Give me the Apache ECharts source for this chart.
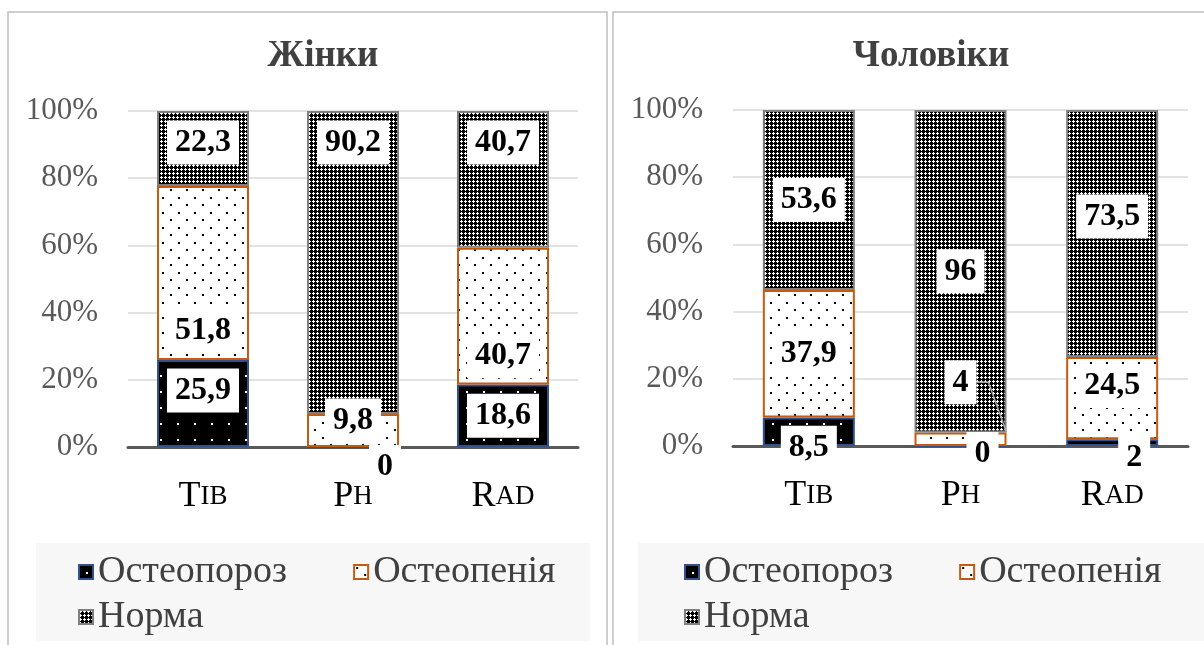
<!DOCTYPE html>
<html><head><meta charset="utf-8">
<script src="https://cdn.jsdelivr.net/npm/echarts@6/dist/echarts.min.js"></script>
<style>html,body{margin:0;padding:0;background:#fff}#c{width:1204px;height:645px}</style>
</head><body><div id="c"></div>
<script>
// ---- data ----
const categories = ['Tib', 'Ph', 'Rad'];
const seriesNames = ['Остеопороз', 'Остеопенія', 'Норма'];
const chartTitles = ['Жінки', 'Чоловіки'];
const womenOsteoporosis = [25.9, 0, 18.6];
const womenOsteopenia = [51.8, 9.8, 40.7];
const womenNorma = [22.3, 90.2, 40.7];
const menOsteoporosis = [8.5, 0, 2];
const menOsteopenia = [37.9, 4, 24.5];
const menNorma = [53.6, 96, 73.5];

// ---- label shifts (style only) ----
const shiftWomen = [[[0,-13],[32,20],[0,0]], [[0,58],[0,-10],[0,40]], [[0,-6],[0,-120],[0,-37]]];
const shiftMen = [[[0,16],[22,8],[22,15]], [[0,0],[0,-57],[0,-12]], [[0,0],[0,0],[0,-17]]];

const FONT = "Liberation Serif";
const BAR_W = 92;
const LABEL_FONT = "bold 32px 'Liberation Serif'";
const LABEL_PAD_X = 8;

function makePattern(w, h, bg, fg, pts) {
  const c = document.createElement('canvas');
  c.width = w; c.height = h;
  const g = c.getContext('2d');
  g.fillStyle = bg; g.fillRect(0, 0, w, h);
  g.fillStyle = fg;
  pts.forEach(p => g.fillRect(p[0], p[1], p[2] || 2, p[3] || 2));
  return { image: c, repeat: 'repeat' };
}
const patOsteoporosis = makePattern(17, 16, '#000', '#fff', [[7, 7]]);
const patOsteopenia = makePattern(16, 15, '#fff', '#000', [[2, 2], [10, 9]]);
const patNorma = makePattern(4, 4, '#000', '#fff', [[1,0,1,1],[0,1,3,1],[1,2,1,1]]);

const styles = [
  { color: patOsteoporosis, borderColor: '#2f528f', borderWidth: 2 },
  { color: patOsteopenia, borderColor: '#c55a11', borderWidth: 2 },
  { color: patNorma, borderColor: '#808080', borderWidth: 2 }
];

function fmtVal(v) { return String(v).replace('.', ','); }
function fmt(p) { return fmtVal(p.value); }

const measureCtx = document.createElement('canvas').getContext('2d');
function labelHalfWidth(text) {
  measureCtx.font = LABEL_FONT;
  return measureCtx.measureText(text).width / 2 + LABEL_PAD_X;
}

function buildSeries(idx, values, shifts) {
  const out = [];
  values.forEach((vals, s) => {
    out.push({
      name: seriesNames[s], type: 'bar', stack: 'st' + idx,
      xAxisIndex: idx, yAxisIndex: idx, barWidth: BAR_W,
      itemStyle: styles[s],
      data: vals.slice(),
      label: {
        show: true, position: 'inside', formatter: fmt,
        fontFamily: FONT, fontWeight: 'bold', fontSize: 32, color: '#000',
        backgroundColor: '#fff', padding: [5, LABEL_PAD_X], lineHeight: 34
      },
      labelLayout: function (p) { const sh = shifts[s][p.dataIndex]; return { dx: sh[0], dy: sh[1] }; },
      emphasis: { disabled: true }
    });
  });
  return out;
}

// leader line for the moved label "4" (men, Ph, osteopenia) — drawn via the chart's own scales
const leaderSeries = {
  type: 'custom', xAxisIndex: 1, yAxisIndex: 1, z: 3, silent: true,
  data: [[1, menOsteoporosis[1], menOsteopenia[1]]],
  renderItem: function (params, api) {
    const ci = api.value(0), base = api.value(1), val = api.value(2);
    const top = api.coord([ci, base + val]);
    const mid = api.coord([ci, base + val / 2]);
    const sh = shiftMen[1][ci];
    const hw = labelHalfWidth(fmtVal(val));
    const sx = mid[0] + sh[0] + hw, sy = mid[1] + sh[1];
    return {
      type: 'polyline',
      shape: { points: [[sx, sy], [sx + 12, sy], [mid[0] + BAR_W / 2, top[1]]] },
      style: { stroke: '#a6a6a6', lineWidth: 1.5, fill: null }
    };
  }
};

const xLabel = {
  interval: 0, margin: 32,
  formatter: v => '{a|' + v[0] + '}{b|' + v.slice(1).toUpperCase() + '}',
  rich: {
    a: { fontFamily: FONT, fontSize: 36, color: '#000' },
    b: { fontFamily: FONT, fontSize: 27, color: '#000' }
  }
};
function xAxis(gi) {
  return {
    type: 'category', gridIndex: gi, data: categories,
    axisTick: { show: false },
    axisLine: { lineStyle: { color: '#595959', width: 3 } },
    axisLabel: xLabel
  };
}
function yAxis(gi) {
  return {
    type: 'value', gridIndex: gi, min: 0, max: 100, interval: 20,
    axisLine: { show: false }, axisTick: { show: false },
    splitLine: { lineStyle: { color: '#d9d9d9', width: 1.5 } },
    axisLabel: { formatter: '{value}%', fontFamily: FONT, fontSize: 31, color: '#595959', margin: 30 }
  };
}
const legendText = { fontFamily: FONT, fontSize: 38, color: '#404040' };
function legend(left, top, names) {
  return { left: left, top: top, data: names, itemWidth: 14, itemHeight: 14, itemGap: 66,
    icon: 'rect', textStyle: legendText, selectedMode: false, padding: 0 };
}

const chart = echarts.init(document.getElementById('c'));
chart.setOption({
  backgroundColor: '#fff',
  animation: false,
  textStyle: { fontFamily: FONT },
  graphic: [
    { type: 'rect', z: -10, shape: { x: 8, y: 12, width: 599, height: 700 }, style: { fill: '#fff', stroke: '#bfbfbf', lineWidth: 1.5 } },
    { type: 'rect', z: -10, shape: { x: 613, y: 12, width: 620, height: 700 }, style: { fill: '#fff', stroke: '#bfbfbf', lineWidth: 1.5 } },
    { type: 'rect', z: -9, shape: { x: 36, y: 543, width: 554, height: 98 }, style: { fill: '#f7f7f7' } },
    { type: 'rect', z: -9, shape: { x: 638, y: 543, width: 580, height: 98 }, style: { fill: '#f7f7f7' } },
    { type: 'text', x: 323, y: 56, style: { text: chartTitles[0], font: "bold 37px 'Liberation Serif'", fill: '#404040', textAlign: 'center', textVerticalAlign: 'middle' } },
    { type: 'text', x: 931, y: 56, style: { text: chartTitles[1], font: "bold 37px 'Liberation Serif'", fill: '#404040', textAlign: 'center', textVerticalAlign: 'middle' } }
  ],
  legend: [
    legend(78, 553, [seriesNames[0], seriesNames[1]]),
    legend(78, 598, [seriesNames[2]]),
    legend(684, 553, [seriesNames[0], seriesNames[1]]),
    legend(684, 598, [seriesNames[2]])
  ],
  grid: [
    { left: 128, right: 626, top: 111, bottom: 198 },
    { left: 733, right: 16, top: 110, bottom: 199 }
  ],
  xAxis: [xAxis(0), xAxis(1)],
  yAxis: [yAxis(0), yAxis(1)],
  series: [].concat(
    buildSeries(0, [womenOsteoporosis, womenOsteopenia, womenNorma], shiftWomen),
    buildSeries(1, [menOsteoporosis, menOsteopenia, menNorma], shiftMen),
    [leaderSeries]
  )
});
</script></body></html>
